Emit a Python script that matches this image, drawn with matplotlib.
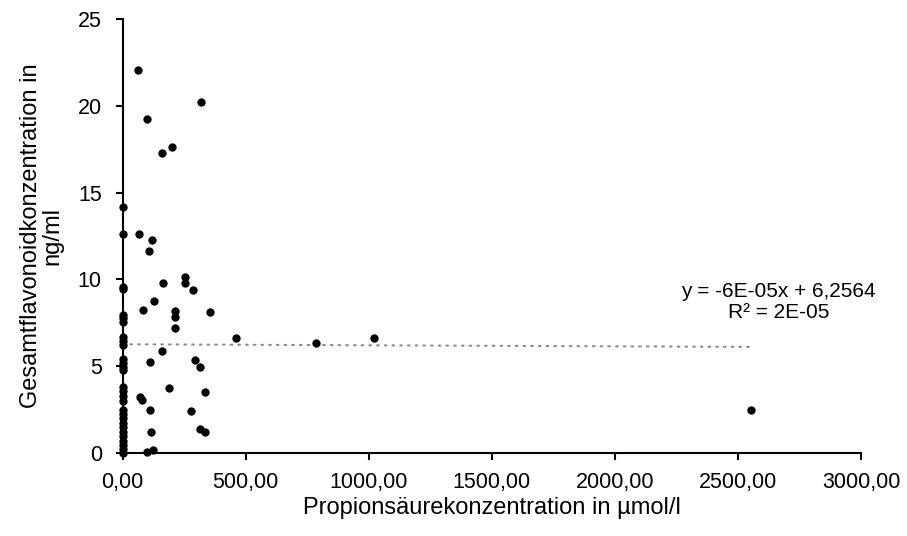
import matplotlib
matplotlib.use("Agg")
import matplotlib.pyplot as plt
import numpy as np

plt.rcParams['font.family'] = ['Liberation Sans', 'DejaVu Sans']

# Samples sitting on the y axis (propionic acid = 0)
zero_x = [0.0] * 29
zero_y = [14.16, 12.62, 9.58, 9.43, 7.95, 7.75, 7.56, 6.66, 6.46, 6.21,
          5.39, 5.19, 4.96, 4.77, 3.81, 3.58, 3.27, 3.00, 2.46, 2.23,
          1.98, 1.70, 1.47, 1.21, 0.96, 0.69, 0.44, 0.20, 0.00]

# Samples with measurable propionic acid
pos_x = [61, 318, 99, 160, 202, 66, 119, 105, 165, 252, 252, 285, 129, 83,
         211, 211, 214, 354, 459, 785, 1023, 158, 111, 293, 314, 189, 336,
         70, 80, 111, 277, 114, 314, 336, 98, 124, 2554]
pos_y = [22.07, 20.22, 19.24, 17.29, 17.66, 12.62, 12.27, 11.62, 9.80, 10.12,
         9.79, 9.39, 8.74, 8.22, 8.16, 7.83, 7.18, 8.14, 6.62, 6.31, 6.60,
         5.88, 5.25, 5.32, 4.93, 3.74, 3.49, 3.23, 3.04, 2.48, 2.42, 1.18,
         1.35, 1.19, 0.02, 0.13, 2.46]

# Linear trend as reported
slope = -6e-05
intercept = 6.2564
equation = "y = -6E-05x + 6,2564\nR² = 2E-05"

x_ticks = [0, 500, 1000, 1500, 2000, 2500, 3000]
x_ticklabels = ["0,00", "500,00", "1000,00", "1500,00", "2000,00", "2500,00", "3000,00"]
y_ticks = [0, 5, 10, 15, 20, 25]
y_ticklabels = ["0", "5", "10", "15", "20", "25"]

x_all = np.array(zero_x + pos_x, dtype=float)
y_all = np.array(zero_y + pos_y, dtype=float)

fig = plt.figure(figsize=(9.07, 5.36), dpi=100)
ax = fig.add_axes([122.7 / 907, 1 - 452.7 / 536, (861 - 122.7) / 907, (452.7 - 19.3) / 536])

ax.scatter(x_all, y_all, s=36, color='black', zorder=3, linewidths=0, clip_on=False)

xt = np.array([0, x_all.max()])
ax.plot(xt, slope * xt + intercept, color='#8c8c8c', lw=1.5,
        linestyle=(0, (0.8, 2.9)), dash_capstyle='round', zorder=2)

ax.text(2664, 8.68, equation, ha='center', va='center', multialignment='center',
        fontsize=15, linespacing=1.1)

ax.set_xlim(0, 3000)
ax.set_ylim(0, 25)
ax.set_xticks(x_ticks)
ax.set_xticklabels(x_ticklabels)
ax.set_yticks(y_ticks)
ax.set_yticklabels(y_ticklabels)

for side in ['top', 'right']:
    ax.spines[side].set_visible(False)
for side in ['left', 'bottom']:
    ax.spines[side].set_linewidth(1.5)
    ax.spines[side].set_color('black')
ax.tick_params(axis='both', direction='out', length=5, width=1.5, labelsize=15.5,
               colors='black')
ax.tick_params(axis='y', pad=10)
ax.tick_params(axis='x', pad=9)

ax.set_xlabel("Propionsäurekonzentration in µmol/l", fontsize=17, labelpad=3)
ax.set_ylabel("Gesamtflavonoidkonzentration in\nng/ml", fontsize=17, labelpad=10,
              multialignment='center', linespacing=1.0)

fig.savefig("out.png", dpi=100)
